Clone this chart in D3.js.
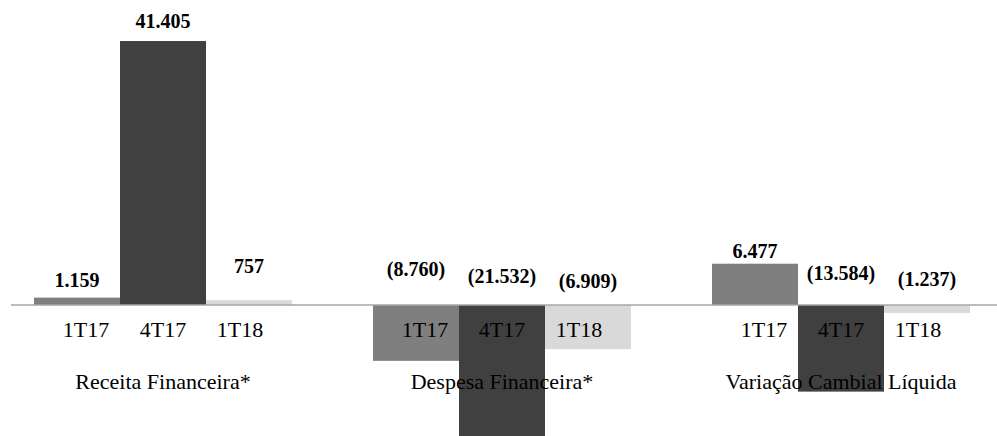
<!DOCTYPE html>
<html>
<head>
<meta charset="utf-8">
<script src="https://cdn.jsdelivr.net/npm/d3@7"></script>
<style>
  html, body { margin: 0; padding: 0; background: #ffffff; }
  svg { display: block; }
  text { font-family: "Liberation Serif", "Times New Roman", serif; }
</style>
</head>
<body>
<svg id="chart" width="997" height="436"></svg>
<script>
// Categories and periods
const groups = ["Receita Financeira*", "Despesa Financeira*", "Variação Cambial Líquida"];
const periods = ["1T17", "4T17", "1T18"];

// Values per period (R$ mil), one entry per category
const v1T17 = [1159, -8760, 6477];
const v4T17 = [41405, -21532, -13584];
const v1T18 = [757, -6909, -1237];

// Printed value labels
const lbl1T17 = ["1.159", "(8.760)", "6.477"];
const lbl4T17 = ["41.405", "(21.532)", "(13.584)"];
const lbl1T18 = ["757", "(6.909)", "(1.237)"];

// Label lift in px (above bar end for gains, above the axis for losses)
const lift1T17 = [11, 29, 6];
const lift4T17 = [13, 22, 25];
const lift1T18 = [27, 17, 19];

const colors = { "1T17": "#7f7f7f", "4T17": "#404040", "1T18": "#d9d9d9" };

const seriesVals = { "1T17": v1T17, "4T17": v4T17, "1T18": v1T18 };
const seriesLbls = { "1T17": lbl1T17, "4T17": lbl4T17, "1T18": lbl1T18 };
const seriesLift = { "1T17": lift1T17, "4T17": lift4T17, "1T18": lift1T18 };

const svg = d3.select("#chart");
const W = 997;

const x0 = d3.scaleBand()
  .domain(groups)
  .range([-6.5, 1010.5])
  .paddingInner(81 / 339)
  .paddingOuter(81 / 339 / 2);

const x1 = d3.scaleBand()
  .domain(periods)
  .range([0, x0.bandwidth()]);

// Period labels are spread a little narrower than the bars
const xt = d3.scalePoint()
  .domain(periods)
  .range([x0.bandwidth() / 2 - 77, x0.bandwidth() / 2 + 77]);

const y = d3.scaleLinear()
  .domain([-25000, 45000])
  .range([464.4, 18.1]);

const rows = [];
groups.forEach((g, i) => {
  periods.forEach(p => {
    rows.push({ g, p, v: seriesVals[p][i], label: seriesLbls[p][i], lift: seriesLift[p][i] });
  });
});

// Bars
svg.append("g")
  .selectAll("rect")
  .data(rows)
  .join("rect")
  .attr("x", d => x0(d.g) + x1(d.p))
  .attr("width", x1.bandwidth())
  .attr("y", d => Math.min(y(d.v), y(0)))
  .attr("height", d => Math.abs(y(d.v) - y(0)))
  .attr("fill", d => colors[d.p]);

// Zero axis line
svg.append("line")
  .attr("x1", 11).attr("x2", W)
  .attr("y1", y(0)).attr("y2", y(0))
  .attr("stroke", "#a6a6a6")
  .attr("stroke-width", 1.5);

// Value labels
svg.append("g")
  .selectAll("text")
  .data(rows)
  .join("text")
  .attr("x", d => x0(d.g) + x1(d.p) + x1.bandwidth() / 2)
  .attr("y", d => (d.v >= 0 ? y(d.v) : y(0)) - d.lift)
  .attr("text-anchor", "middle")
  .attr("font-size", 20)
  .attr("font-weight", "bold")
  .attr("fill", "#000")
  .text(d => d.label);

// Period labels
svg.append("g")
  .selectAll("text")
  .data(rows)
  .join("text")
  .attr("x", d => x0(d.g) + xt(d.p))
  .attr("y", y(0) + 32)
  .attr("text-anchor", "middle")
  .attr("font-size", 22)
  .attr("fill", "#000")
  .text(d => d.p);

// Category labels
svg.append("g")
  .selectAll("text")
  .data(groups)
  .join("text")
  .attr("x", d => x0(d) + x0.bandwidth() / 2)
  .attr("y", y(0) + 84)
  .attr("text-anchor", "middle")
  .attr("font-size", 22)
  .attr("fill", "#000")
  .text(d => d);
</script>
</body>
</html>
